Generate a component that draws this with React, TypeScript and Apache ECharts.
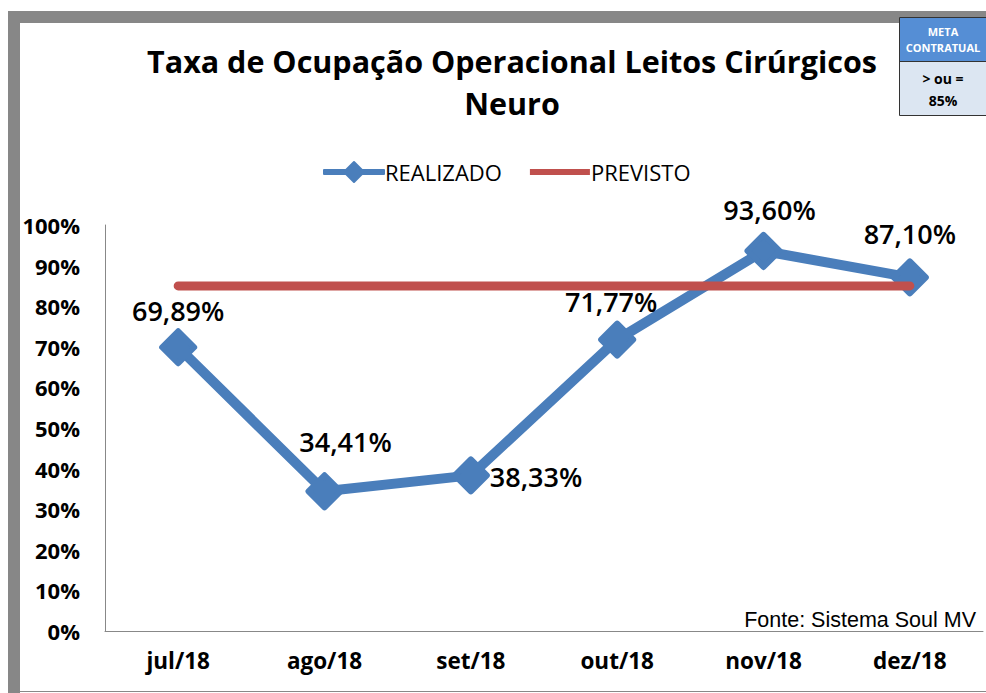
import React, { useEffect, useRef } from "react";
import * as echarts from "echarts";

const categories = ["jul/18", "ago/18", "set/18", "out/18", "nov/18", "dez/18"];
const realizado = [69.89, 34.41, 38.33, 71.77, 93.6, 87.1];
const previsto = [85, 85, 85, 85, 85, 85];
const yTicks = [0, 10, 20, 30, 40, 50, 60, 70, 80, 90, 100];
const labelPositions = ["top", "top", "right", "top", "top", "top"];
const labelDistances = [4, 17, 0, 6, 9, 11];
const labelOffsets = [[0, 0], [21, 0], [0, 1], [-6, 0], [6, 0], [0, 0]];

const fmt = (v: number) => v.toFixed(2).replace(".", ",") + "%";

export default function App() {
  const ref = useRef<HTMLDivElement>(null);
  useEffect(() => {
    document.body.style.margin = "0";
    const chart = echarts.init(ref.current!, null, { renderer: "svg" });
    const font = "'Open Sans', Lato, sans-serif";
    chart.setOption({
      animation: false,
      backgroundColor: "#fff",
      title: {
        text: "Taxa de Ocupação Operacional Leitos Cirúrgicos\nNeuro",
        left: 507,
        textAlign: "center",
        top: 35,
        textStyle: { fontFamily: font, fontWeight: "bold", fontSize: 30.5, color: "#000", lineHeight: 42 },
      },
      legend: {
        top: 156,
        left: 318,
        itemWidth: 60,
        itemHeight: 20,
        itemGap: 28,
        textStyle: { fontFamily: font, fontSize: 22, color: "#000", padding: [0, 0, 0, -4] },
        data: [
          { name: "REALIZADO", icon: "path://M0,8 L22,8 L30,0 L38,8 L60,8 L60,12 L38,12 L30,20 L22,12 L0,12 Z" },
          { name: "PREVISTO", icon: "path://M0,7 L60,7 L60,13 L0,13 Z" },
        ],
      },
      grid: { left: 105, right: 3, top: 225, bottom: 62 },
      xAxis: {
        type: "category",
        data: categories,
        boundaryGap: true,
        axisLine: { lineStyle: { color: "#888", width: 1 } },
        axisTick: { show: false },
        axisLabel: { fontFamily: font, fontWeight: "bold", fontSize: 22.5, color: "#000", margin: 18 },
      },
      yAxis: {
        type: "value",
        min: 0,
        max: 100,
        interval: 10,
        axisLine: { show: true, lineStyle: { color: "#888", width: 1 } },
        axisTick: { show: false },
        splitLine: { show: false },
        axisLabel: {
          fontFamily: font,
          fontWeight: "bold",
          fontSize: 22,
          color: "#000",
          margin: 25,
          formatter: (v: number) => (yTicks.includes(v) ? v + "%" : ""),
        },
      },
      series: [
        {
          name: "REALIZADO",
          type: "line",
          data: realizado.map((v, i) => ({
            value: v,
            label: {
              position: labelPositions[i] as any,
              distance: labelDistances[i],
              offset: labelOffsets[i],
            },
          })),
          lineStyle: { color: "#4a7ebb", width: 10 },
          itemStyle: { color: "#4a7ebb", borderColor: "#4a7ebb", borderWidth: 6, borderJoin: "round" },
          symbol: "diamond",
          symbolSize: 32,
          z: 3,
          label: {
            show: true,
            fontFamily: font,
            fontWeight: 600,
            fontSize: 27,
            color: "#000",
            formatter: (p: any) => fmt(p.value),
          },
        },
        {
          name: "PREVISTO",
          type: "line",
          data: previsto,
          lineStyle: { color: "#c0504d", width: 9, cap: "round" },
          itemStyle: { color: "#c0504d" },
          symbol: "none",
          z: 4,
        },
      ],
      graphic: [
        { type: "rect", shape: { x: 8, y: 11, width: 12, height: 682 }, style: { fill: "#878787" } },
        { type: "rect", shape: { x: 8, y: 11, width: 978, height: 12 }, style: { fill: "#878787" } },
        { type: "line", shape: { x1: 20, y1: 691.5, x2: 986, y2: 691.5 }, style: { stroke: "#888", lineWidth: 1 } },
        { type: "rect", shape: { x: 899.5, y: 17.5, width: 90, height: 98 }, style: { fill: "#dce6f2", stroke: "#333", lineWidth: 1 } },
        { type: "rect", shape: { x: 900, y: 18, width: 89, height: 43 }, style: { fill: "#558ed5" } },
        { type: "line", shape: { x1: 900, y1: 61.5, x2: 986, y2: 61.5 }, style: { stroke: "#333", lineWidth: 1 } },
        {
          type: "text",
          x: 943,
          y: 39,
          style: {
            text: "META\nCONTRATUAL",
            fill: "#fff",
            fontFamily: font,
            fontWeight: "bold",
            fontSize: 11,
            lineHeight: 16,
            align: "center",
            verticalAlign: "middle",
          },
        },
        {
          type: "text",
          x: 943,
          y: 89,
          style: {
            text: "> ou =\n85%",
            fill: "#000",
            fontFamily: font,
            fontWeight: "bold",
            fontSize: 14,
            lineHeight: 22,
            align: "center",
            verticalAlign: "middle",
          },
        },
        {
          type: "text",
          x: 976,
          y: 620,
          style: {
            text: "Fonte: Sistema Soul MV",
            fill: "#000",
            fontFamily: "'Liberation Sans', Arial, sans-serif",
            fontSize: 21.5,
            align: "right",
            verticalAlign: "middle",
          },
        },
      ],
    });
    return () => chart.dispose();
  }, []);
  return <div ref={ref} style={{ width: 986, height: 693 }} />;
}
